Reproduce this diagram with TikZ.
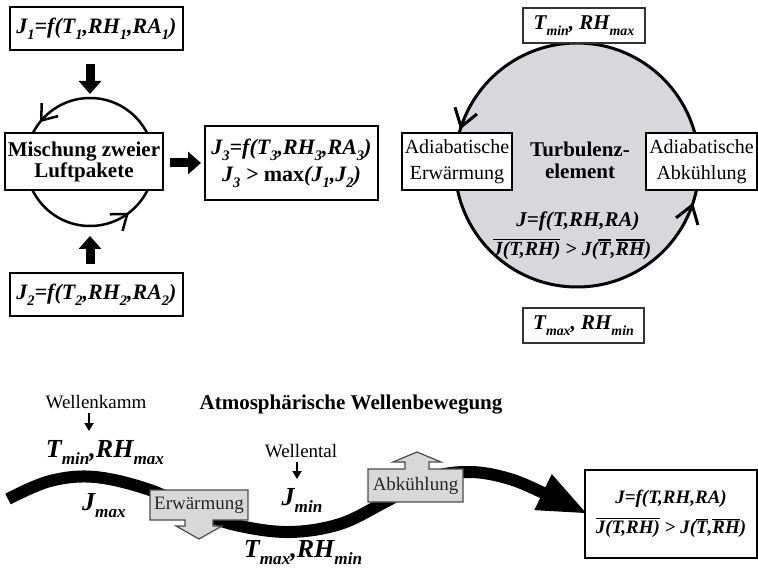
\documentclass[tikz,border=0pt]{standalone}
\usepackage{fontspec}
\setmainfont{Liberation Serif}
\usetikzlibrary{arrows.meta,decorations.markings}
\definecolor{boxgray}{RGB}{216,216,216}
\definecolor{circgray}{RGB}{216,216,219}
\newcommand{\sbs}[1]{\raisebox{-0.27em}{\scalebox{0.66}{#1}}}
\newcommand{\ovl}[1]{\leavevmode\vbox{\hrule height1.5pt\kern1.2pt\hbox{#1}}}
\newcommand{\fbiA}{\fontsize{22}{24}\selectfont\bfseries\itshape}
\newcommand{\fbiJ}{\fontsize{22}{27}\selectfont\bfseries\itshape}
\newcommand{\fbiB}{\fontsize{21}{24}\selectfont\bfseries\itshape}
\newcommand{\fbiC}{\fontsize{20}{24}\selectfont\bfseries\itshape}
\newcommand{\fbiD}{\fontsize{19}{30}\selectfont\bfseries\itshape}
\newcommand{\fbiE}{\fontsize{26}{30}\selectfont\bfseries\itshape}
\newcommand{\fmix}{\fontsize{21}{21}\selectfont\bfseries}
\newcommand{\freg}{\fontsize{20}{26}\selectfont}
\newcommand{\fsmall}{\fontsize{19}{22}\selectfont}
\newcommand{\fttl}{\fontsize{21}{22}\selectfont\bfseries}
\begin{document}
\begin{tikzpicture}[x=1pt,y=-1pt,
  boldbox/.style={draw, line width=2.5pt, fill=white, inner sep=0pt, align=center},
  thinbox/.style={draw, line width=1.2pt, fill=white, inner sep=0pt, align=center},
  bigarrow/.style={line width=9pt, -{Triangle[length=13pt,width=22pt]}},
  smallarrow/.style={line width=2pt, -{Triangle[length=8pt,width=9pt]}},
  graybox/.style={draw=black!70, line width=1.2pt, fill=boxgray, line join=miter},
  barb/.tip={Straight Barb[length=14pt,width=21pt]},
  bigbarb/.tip={Straight Barb[length=17pt,width=23pt]},
  wave/.style={line width=12pt, -{Triangle[length=50pt,width=36pt]}}
]
\useasboundingbox (0,0) rectangle (758,569);

% ---------- top left: mixing ----------
\node[boldbox, minimum width=173pt, minimum height=43pt, font=\fbiA] (j1) at (96.5,28.5)
  {J\sbs{1}=f(T\sbs{1},RH\sbs{1},RA\sbs{1})};
\draw[line width=2.5pt, postaction={decorate},
  decoration={markings,
    mark=at position 0.143 with {\arrow[line width=2.5pt]{barb}},
    mark=at position 0.604 with {\arrow[line width=2.5pt]{barb}}}]
  (90,98) arc[start angle=270, end angle=-90, radius=64];
\node[boldbox, minimum width=158pt, minimum height=57pt, font=\fmix] (mix) at (84,161.5)
  {Mischung zweier\\Luftpakete};
\node[boldbox, minimum width=173pt, minimum height=74pt, font=\fbiJ] (j3) at (291.5,163)
  {J\sbs{3}=f(T\sbs{3},RH\sbs{3},RA\sbs{3})\\J\sbs{3} > {\upshape max}(J\sbs{1},J\sbs{2})};
\node[boldbox, minimum width=173pt, minimum height=43pt, font=\fbiA] (j2) at (96.5,294.5)
  {J\sbs{2}=f(T\sbs{2},RH\sbs{2},RA\sbs{2})};
\coordinate (a1s) at (90,64);  \coordinate (a1e) at (90,94);
\coordinate (a2s) at (90,264); \coordinate (a2e) at (90,236);
\coordinate (a3s) at (170,163); \coordinate (a3e) at (201,163);
\draw[bigarrow] (a1s) -- (a1e);
\draw[bigarrow] (a2s) -- (a2e);
\draw[bigarrow] (a3s) -- (a3e);

% ---------- top right: turbulence element ----------
\draw[fill=circgray, line width=3pt, postaction={decorate},
  decoration={markings,
    mark=at position 0.203 with {\arrow[line width=3pt]{bigbarb}},
    mark=at position 0.70 with {\arrow[line width=3pt]{bigbarb}}}]
  (577,43) arc[start angle=270, end angle=-90, radius=122];
\node[thinbox, draw=black!80, minimum width=122pt, minimum height=35pt, font=\fbiB] (tmin) at (584,25.5)
  {T\sbs{min}, RH\sbs{max}};
\node[thinbox, minimum width=110pt, minimum height=57pt, font=\freg] (aerw) at (457,161.5)
  {Adiabatische\\Erwärmung};
\node[thinbox, minimum width=111pt, minimum height=57pt, font=\freg] (aabk) at (701.5,161.5)
  {Adiabatische\\Abkühlung};
\node[font=\fttl, align=center] (turb) at (580,160) {Turbulenz-\\element};
\node[font=\fbiB] (jf) at (578,221) {J=f(T,RH,RA)};
\node[font=\fbiC] (ineq) at (572,249) {\ovl{J(T,RH)} > J(\ovl{T},\ovl{RH})};
\node[thinbox, draw=black!80, minimum width=121pt, minimum height=35pt, font=\fbiB] (tmax) at (583.5,325.5)
  {T\sbs{max}, RH\sbs{min}};

% ---------- bottom: atmospheric wave ----------
\node[font=\fsmall, anchor=base] (kamm) at (96,408) {Wellenkamm};
\node[font=\fttl, anchor=base] (title) at (351,409) {Atmosphärische Wellenbewegung};
\node[font=\fbiE, anchor=base] (tminb) at (105,457) {T\sbs{min},RH\sbs{max}};
\node[font=\fsmall, anchor=base] (tal) at (301,457) {Wellental};
\coordinate (k1) at (89,413); \coordinate (k2) at (89,431);
\coordinate (t1) at (297,462); \coordinate (t2) at (297,479);
\draw[smallarrow] (k1) -- (k2);
\draw[smallarrow] (t1) -- (t2);

\draw[wave] plot[smooth, tension=0.6] coordinates {(8,499) (50,481) (95,477) (150,490) (200,513) (240,526) (290,532) (340,524) (385,502) (430,478) (470,472) (510,479) (550,496) (588,514)};

\node[font=\fbiE, anchor=base] (jmax) at (104,510) {J\sbs{max}};
\node[font=\fbiE, anchor=base] (jmin) at (302,505) {J\sbs{min}};
\node[font=\fbiE, anchor=base] (tmaxb) at (303,557) {T\sbs{max},RH\sbs{min}};

\draw[graybox] (150,490) -- (248,490) -- (248,520) -- (213,520) -- (213,526) -- (222,526)
  -- (199,539) -- (176,526) -- (185,526) -- (185,520) -- (150,520) -- cycle;
\node[font=\fsmall, text=black!85] (erw) at (199,505) {Erwärmung};
\draw[graybox] (368,469) -- (405,469) -- (405,462) -- (393,462) -- (417,452) -- (441,462)
  -- (429,462) -- (429,469) -- (463,469) -- (463,502) -- (368,502) -- cycle;
\node[font=\fsmall, text=black!85] (abk) at (415.5,486) {Abkühlung};

\node[boldbox, minimum width=172pt, minimum height=88pt, font=\fbiD] (res) at (671,514)
  {J=f(T,RH,RA)\\\ovl{J(T,RH)} > J(\ovl{T},\ovl{RH})};
\end{tikzpicture}
\end{document}
